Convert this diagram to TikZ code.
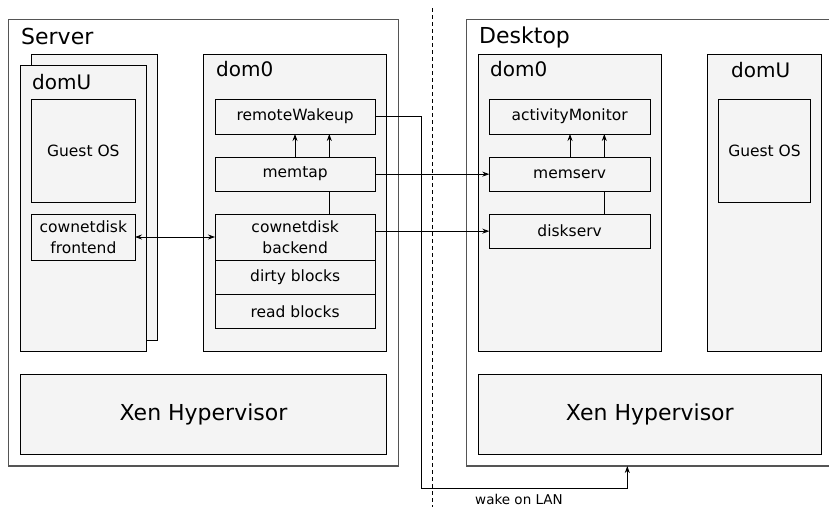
\documentclass[tikz,border=0pt]{standalone}
\usepackage{fontspec}
\setmainfont{DejaVu Sans}
\usetikzlibrary{arrows.meta}
\definecolor{boxfill}{HTML}{F4F4F4}
\definecolor{outerline}{HTML}{555555}
\tikzset{
  box/.style={draw=black, line width=0.9pt, fill=boxfill, inner sep=0pt, outer sep=0pt, anchor=north west},
  outerbox/.style={draw=outerline, line width=1.2pt, fill=white, inner sep=0pt, outer sep=0pt, anchor=north west},
  lbl/.style={font=\fontsize{15.5}{21}\selectfont, align=center},
  title/.style={font=\fontsize{22}{26}\selectfont, anchor=base west, inner sep=0pt},
  domtitle/.style={font=\fontsize{20}{24}\selectfont, anchor=base west, inner sep=0pt},
  xen/.style={font=\fontsize{22}{26}\selectfont},
  tip/.tip={Stealth[length=7pt,width=5pt]},
  arr/.style={draw=black, line width=0.8pt, -tip},
  conn/.style={draw=black, line width=0.8pt}
}
\begin{document}
\begin{tikzpicture}[x=1pt,y=-1pt]
\useasboundingbox (0,0) rectangle (829,507);
\clip (0,0) rectangle (829,507);
% Server
\node[outerbox, minimum width=390pt, minimum height=446.7pt] (server) at (8.3,19.3) {};
\node[title] (servert) at (21,44) {Server};
\node[box, minimum width=126pt, minimum height=286pt] (domUback) at (31.7,54) {};
\node[box, minimum width=126.4pt, minimum height=285.6pt] (domUS) at (20.3,65.7) {};
\node[domtitle] (domUSt) at (32,89.3) {domU};
\node[box, minimum width=103.3pt, minimum height=103.4pt] (guestS) at (31.7,99.3) {};
\node[lbl] (guestSt) at (guestS.center) {Guest OS};
\node[box, minimum width=103.3pt, minimum height=46pt] (front) at (31.7,214) {};
\node[lbl] (frontt) at (front.center) {cownetdisk\\frontend};
\node[box, minimum width=183.4pt, minimum height=297.3pt] (dom0S) at (203.3,54) {};
\node[domtitle] (dom0St) at (216,76.7) {dom0};
\node[box, minimum width=160.3pt, minimum height=34.7pt] (wake) at (215,99.3) {};
\node[lbl] (waket) at (wake.center) {remoteWakeup};
\node[box, minimum width=160.3pt, minimum height=33.7pt] (memtap) at (215,157.3) {};
\node[lbl] (memtapt) at (memtap.center) {memtap};
\node[box, minimum width=160.3pt, minimum height=46pt] (backend) at (215,214) {};
\node[lbl] (backendt) at (backend.center) {cownetdisk\\backend};
\node[box, minimum width=160.3pt, minimum height=34pt] (dirty) at (215,260) {};
\node[lbl] (dirtyt) at (dirty.center) {dirty blocks};
\node[box, minimum width=160.3pt, minimum height=34.7pt] (read) at (215,294) {};
\node[lbl] (readt) at (read.center) {read blocks};
\node[box, minimum width=366.4pt, minimum height=80pt] (xenS) at (20.3,374.3) {};
\node[xen] (xenSt) at (xenS.center) {Xen Hypervisor};
% Desktop
\node[outerbox, minimum width=380pt, minimum height=446.7pt] (desktop) at (466.7,19.3) {};
\node[title] (desktopt) at (479,43.3) {Desktop};
\node[box, minimum width=183.7pt, minimum height=297.3pt] (dom0D) at (478,54) {};
\node[domtitle] (dom0Dt) at (490,76.7) {dom0};
\node[box, minimum width=160.7pt, minimum height=34.7pt] (act) at (489.3,99.3) {};
\node[lbl] (actt) at (act.center) {activityMonitor};
\node[box, minimum width=160.7pt, minimum height=33.7pt] (memserv) at (489.3,157.3) {};
\node[lbl] (memservt) at (memserv.center) {memserv};
\node[box, minimum width=160.7pt, minimum height=34.3pt] (diskserv) at (489.3,214) {};
\node[lbl] (diskservt) at (diskserv.center) {diskserv};
\node[box, minimum width=114.7pt, minimum height=297.3pt] (domUD) at (707,54) {};
\node[domtitle] (domUDt) at (731,77) {domU};
\node[box, minimum width=92.4pt, minimum height=103.4pt] (guestD) at (718.3,99.3) {};
\node[lbl] (guestDt) at (guestD.center) {Guest OS};
\node[box, minimum width=343.7pt, minimum height=80pt] (xenD) at (478,374.3) {};
\node[xen] (xenDt) at (xenD.center) {Xen Hypervisor};
% dashed separator
\coordinate (dtop) at (432.3,8);
\coordinate (dbot) at (432.3,507);
\draw[line width=0.8pt, dash pattern=on 4pt off 3pt] (dtop) -- (dbot);
% server internal connectors
\draw[arr] ([xshift=80pt]memtap.north west) -- ([xshift=80pt]wake.south west);
\draw[arr] ([xshift=114.3pt]memtap.north west) -- ([xshift=114.3pt]wake.south west);
\draw[conn] ([xshift=114.3pt]memtap.south west) -- ([xshift=114.3pt]backend.north west);
\draw[line width=0.8pt, tip-tip] (front.east) -- (backend.west);
% desktop internal connectors
\draw[arr] ([xshift=80.7pt]memserv.north west) -- ([xshift=80.7pt]act.south west);
\draw[arr] ([xshift=115pt]memserv.north west) -- ([xshift=115pt]act.south west);
\draw[conn] ([xshift=115pt]memserv.south west) -- ([xshift=115pt]diskserv.north west);
% cross connectors
\draw[arr] (memtap.east) -- (memserv.west);
\draw[arr] (backend.east |- diskserv.west) -- (diskserv.west);
\coordinate (w1) at (421,488.7);
\coordinate (wt) at (627.3,466);
\draw[arr] (wake.east) -| (w1) -| (wt);
\node[font=\fontsize{13.5}{16}\selectfont, inner sep=0pt] (wol) at (519,499) {wake on LAN};
\end{tikzpicture}
\end{document}
